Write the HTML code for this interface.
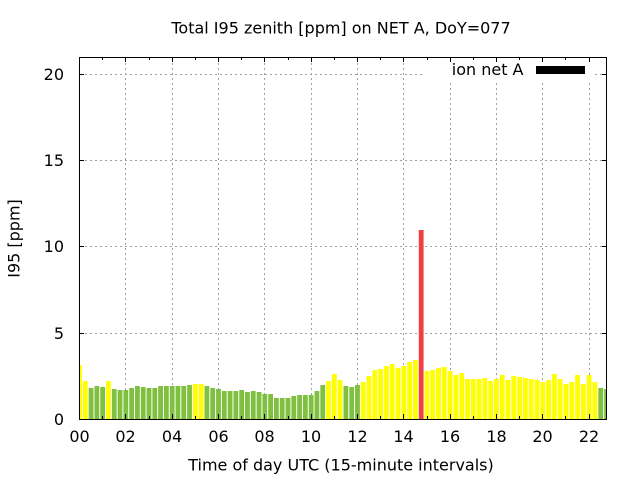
<!DOCTYPE html>
<html>
<head>
<meta charset="utf-8">
<style>
  html, body { margin: 0; padding: 0; background: #ffffff; }
  svg { display: block; }
  text { font-family: "DejaVu Sans", "Liberation Sans", sans-serif; font-size: 16px; fill: #000; }
</style>
</head>
<body>
<svg width="640" height="480" viewBox="0 0 640 480" xmlns="http://www.w3.org/2000/svg">
  <defs>
    <clipPath id="plot"><rect x="80" y="57" width="526" height="362"/></clipPath>
  </defs>
  <rect x="0" y="0" width="640" height="480" fill="#ffffff"/>

  <!-- grid -->
  <g stroke="#a0a0a0" stroke-width="1" stroke-dasharray="2,3" fill="none">
    <line x1="80" y1="74.5" x2="606" y2="74.5"/>
    <line x1="80" y1="160.5" x2="606" y2="160.5"/>
    <line x1="80" y1="246.5" x2="606" y2="246.5"/>
    <line x1="80" y1="333.5" x2="606" y2="333.5"/>
    <line x1="125.5" y1="58" x2="125.5" y2="419"/>
    <line x1="172.5" y1="58" x2="172.5" y2="419"/>
    <line x1="218.5" y1="58" x2="218.5" y2="419"/>
    <line x1="264.5" y1="58" x2="264.5" y2="419"/>
    <line x1="311.5" y1="58" x2="311.5" y2="419"/>
    <line x1="357.5" y1="58" x2="357.5" y2="419"/>
    <line x1="403.5" y1="58" x2="403.5" y2="419"/>
    <line x1="450.5" y1="58" x2="450.5" y2="419"/>
    <line x1="496.5" y1="58" x2="496.5" y2="419"/>
    <line x1="542.5" y1="58" x2="542.5" y2="419"/>
    <line x1="589.5" y1="58" x2="589.5" y2="419"/>
  </g>

  <!-- bars -->
  <g clip-path="url(#plot)">
    <rect x="77.10" y="365" width="4.8" height="54" fill="#ffff00"/>
    <rect x="82.89" y="381" width="4.8" height="38" fill="#ffff00"/>
    <rect x="88.68" y="388" width="4.8" height="31" fill="#80c040"/>
    <rect x="94.47" y="386" width="4.8" height="33" fill="#80c040"/>
    <rect x="100.26" y="387" width="4.8" height="32" fill="#80c040"/>
    <rect x="106.06" y="381" width="4.8" height="38" fill="#ffff00"/>
    <rect x="111.85" y="389" width="4.8" height="30" fill="#80c040"/>
    <rect x="117.64" y="390" width="4.8" height="29" fill="#80c040"/>
    <rect x="123.43" y="390" width="4.8" height="29" fill="#80c040"/>
    <rect x="129.22" y="388" width="4.8" height="31" fill="#80c040"/>
    <rect x="135.01" y="386" width="4.8" height="33" fill="#80c040"/>
    <rect x="140.80" y="387" width="4.8" height="32" fill="#80c040"/>
    <rect x="146.59" y="388" width="4.8" height="31" fill="#80c040"/>
    <rect x="152.39" y="388" width="4.8" height="31" fill="#80c040"/>
    <rect x="158.18" y="386" width="4.8" height="33" fill="#80c040"/>
    <rect x="163.97" y="386" width="4.8" height="33" fill="#80c040"/>
    <rect x="169.76" y="386" width="4.8" height="33" fill="#80c040"/>
    <rect x="175.55" y="386" width="4.8" height="33" fill="#80c040"/>
    <rect x="181.34" y="386" width="4.8" height="33" fill="#80c040"/>
    <rect x="187.13" y="385" width="4.8" height="34" fill="#80c040"/>
    <rect x="192.92" y="384" width="4.8" height="35" fill="#ffff00"/>
    <rect x="198.72" y="384" width="4.8" height="35" fill="#ffff00"/>
    <rect x="204.51" y="386" width="4.8" height="33" fill="#80c040"/>
    <rect x="210.30" y="388" width="4.8" height="31" fill="#80c040"/>
    <rect x="216.09" y="389" width="4.8" height="30" fill="#80c040"/>
    <rect x="221.88" y="391" width="4.8" height="28" fill="#80c040"/>
    <rect x="227.67" y="391" width="4.8" height="28" fill="#80c040"/>
    <rect x="233.46" y="391" width="4.8" height="28" fill="#80c040"/>
    <rect x="239.25" y="390" width="4.8" height="29" fill="#80c040"/>
    <rect x="245.05" y="392" width="4.8" height="27" fill="#80c040"/>
    <rect x="250.84" y="391" width="4.8" height="28" fill="#80c040"/>
    <rect x="256.63" y="392" width="4.8" height="27" fill="#80c040"/>
    <rect x="262.42" y="394" width="4.8" height="25" fill="#80c040"/>
    <rect x="268.21" y="394" width="4.8" height="25" fill="#80c040"/>
    <rect x="274.00" y="398" width="4.8" height="21" fill="#80c040"/>
    <rect x="279.79" y="398" width="4.8" height="21" fill="#80c040"/>
    <rect x="285.58" y="398" width="4.8" height="21" fill="#80c040"/>
    <rect x="291.37" y="396" width="4.8" height="23" fill="#80c040"/>
    <rect x="297.17" y="395" width="4.8" height="24" fill="#80c040"/>
    <rect x="302.96" y="395" width="4.8" height="24" fill="#80c040"/>
    <rect x="308.75" y="395" width="4.8" height="24" fill="#80c040"/>
    <rect x="314.54" y="391" width="4.8" height="28" fill="#80c040"/>
    <rect x="320.33" y="385" width="4.8" height="34" fill="#80c040"/>
    <rect x="326.12" y="381" width="4.8" height="38" fill="#ffff00"/>
    <rect x="331.91" y="374" width="4.8" height="45" fill="#ffff00"/>
    <rect x="337.70" y="380" width="4.8" height="39" fill="#ffff00"/>
    <rect x="343.50" y="386" width="4.8" height="33" fill="#80c040"/>
    <rect x="349.29" y="387" width="4.8" height="32" fill="#80c040"/>
    <rect x="355.08" y="385" width="4.8" height="34" fill="#80c040"/>
    <rect x="360.87" y="382" width="4.8" height="37" fill="#ffff00"/>
    <rect x="366.66" y="376" width="4.8" height="43" fill="#ffff00"/>
    <rect x="372.45" y="370" width="4.8" height="49" fill="#ffff00"/>
    <rect x="378.24" y="369" width="4.8" height="50" fill="#ffff00"/>
    <rect x="384.03" y="366" width="4.8" height="53" fill="#ffff00"/>
    <rect x="389.83" y="364" width="4.8" height="55" fill="#ffff00"/>
    <rect x="395.62" y="368" width="4.8" height="51" fill="#ffff00"/>
    <rect x="401.41" y="366" width="4.8" height="53" fill="#ffff00"/>
    <rect x="407.20" y="362" width="4.8" height="57" fill="#ffff00"/>
    <rect x="412.99" y="360" width="4.8" height="59" fill="#ffff00"/>
    <rect x="418.78" y="230" width="4.8" height="189" fill="#f04040"/>
    <rect x="424.57" y="371" width="4.8" height="48" fill="#ffff00"/>
    <rect x="430.36" y="370" width="4.8" height="49" fill="#ffff00"/>
    <rect x="436.15" y="368" width="4.8" height="51" fill="#ffff00"/>
    <rect x="441.95" y="367" width="4.8" height="52" fill="#ffff00"/>
    <rect x="447.74" y="371" width="4.8" height="48" fill="#ffff00"/>
    <rect x="453.53" y="375" width="4.8" height="44" fill="#ffff00"/>
    <rect x="459.32" y="373" width="4.8" height="46" fill="#ffff00"/>
    <rect x="465.11" y="379" width="4.8" height="40" fill="#ffff00"/>
    <rect x="470.90" y="379" width="4.8" height="40" fill="#ffff00"/>
    <rect x="476.69" y="379" width="4.8" height="40" fill="#ffff00"/>
    <rect x="482.48" y="378" width="4.8" height="41" fill="#ffff00"/>
    <rect x="488.28" y="381" width="4.8" height="38" fill="#ffff00"/>
    <rect x="494.07" y="379" width="4.8" height="40" fill="#ffff00"/>
    <rect x="499.86" y="375" width="4.8" height="44" fill="#ffff00"/>
    <rect x="505.65" y="380" width="4.8" height="39" fill="#ffff00"/>
    <rect x="511.44" y="376" width="4.8" height="43" fill="#ffff00"/>
    <rect x="517.23" y="377" width="4.8" height="42" fill="#ffff00"/>
    <rect x="523.02" y="378" width="4.8" height="41" fill="#ffff00"/>
    <rect x="528.81" y="379" width="4.8" height="40" fill="#ffff00"/>
    <rect x="534.61" y="380" width="4.8" height="39" fill="#ffff00"/>
    <rect x="540.40" y="382" width="4.8" height="37" fill="#ffff00"/>
    <rect x="546.19" y="380" width="4.8" height="39" fill="#ffff00"/>
    <rect x="551.98" y="374" width="4.8" height="45" fill="#ffff00"/>
    <rect x="557.77" y="379" width="4.8" height="40" fill="#ffff00"/>
    <rect x="563.56" y="384" width="4.8" height="35" fill="#ffff00"/>
    <rect x="569.35" y="382" width="4.8" height="37" fill="#ffff00"/>
    <rect x="575.14" y="375" width="4.8" height="44" fill="#ffff00"/>
    <rect x="580.93" y="384" width="4.8" height="35" fill="#ffff00"/>
    <rect x="586.73" y="375" width="4.8" height="44" fill="#ffff00"/>
    <rect x="592.52" y="382" width="4.8" height="37" fill="#ffff00"/>
    <rect x="598.31" y="388" width="4.8" height="31" fill="#80c040"/>
    <rect x="604.10" y="389" width="4.8" height="30" fill="#80c040"/>
  </g>

  <!-- legend box (opaque) -->
  <rect x="425" y="58" width="169" height="22" fill="#ffffff"/>
  <text x="523.5" y="75" text-anchor="end">ion net A</text>
  <rect x="536" y="66" width="49" height="8" fill="#000000"/>

  <!-- ticks -->
  <g stroke="#000" stroke-width="1" fill="none">
    <line x1="80" y1="74.5" x2="84" y2="74.5"/>
    <line x1="80" y1="160.5" x2="84" y2="160.5"/>
    <line x1="80" y1="246.5" x2="84" y2="246.5"/>
    <line x1="80" y1="333.5" x2="84" y2="333.5"/>
    <line x1="602" y1="74.5" x2="606" y2="74.5"/>
    <line x1="602" y1="160.5" x2="606" y2="160.5"/>
    <line x1="602" y1="246.5" x2="606" y2="246.5"/>
    <line x1="602" y1="333.5" x2="606" y2="333.5"/>
    <path d="M125.5 419v-5M172.5 419v-5M218.5 419v-5M264.5 419v-5M311.5 419v-5M357.5 419v-5M403.5 419v-5M450.5 419v-5M496.5 419v-5M542.5 419v-5M589.5 419v-5"/>
    <path d="M125.5 57v5M172.5 57v5M218.5 57v5M264.5 57v5M311.5 57v5M357.5 57v5M403.5 57v5M450.5 57v5M496.5 57v5M542.5 57v5M589.5 57v5"/>
    <path d="M102.5 419v-3M149.5 419v-3M195.5 419v-3M241.5 419v-3M288.5 419v-3M334.5 419v-3M380.5 419v-3M427.5 419v-3M473.5 419v-3M519.5 419v-3M565.5 419v-3"/>
    <path d="M102.5 57v3M149.5 57v3M195.5 57v3M241.5 57v3M288.5 57v3M334.5 57v3M380.5 57v3M427.5 57v3M473.5 57v3M519.5 57v3M565.5 57v3"/>
    <rect x="79.5" y="57.5" width="527" height="362"/>
  </g>

  <!-- y tick labels -->
  <text x="64" y="80" text-anchor="end">20</text>
  <text x="64" y="166" text-anchor="end">15</text>
  <text x="64" y="252" text-anchor="end">10</text>
  <text x="64" y="339" text-anchor="end">5</text>
  <text x="64" y="425" text-anchor="end">0</text>

  <!-- x tick labels -->
  <g text-anchor="middle">
    <text x="79.5" y="442">00</text>
    <text x="125.5" y="442">02</text>
    <text x="172" y="442">04</text>
    <text x="218.5" y="442">06</text>
    <text x="264.5" y="442">08</text>
    <text x="311" y="442">10</text>
    <text x="357.5" y="442">12</text>
    <text x="403.5" y="442">14</text>
    <text x="450" y="442">16</text>
    <text x="496.5" y="442">18</text>
    <text x="542.5" y="442">20</text>
    <text x="589" y="442">22</text>
  </g>

  <!-- title & axis labels -->
  <text x="341" y="33.5" text-anchor="middle">Total I95 zenith [ppm] on NET A, DoY=077</text>
  <text x="341" y="470.5" text-anchor="middle">Time of day UTC (15-minute intervals)</text>
  <text transform="translate(19.5,238.5) rotate(-90)" text-anchor="middle">I95 [ppm]</text>
</svg>
</body>
</html>
